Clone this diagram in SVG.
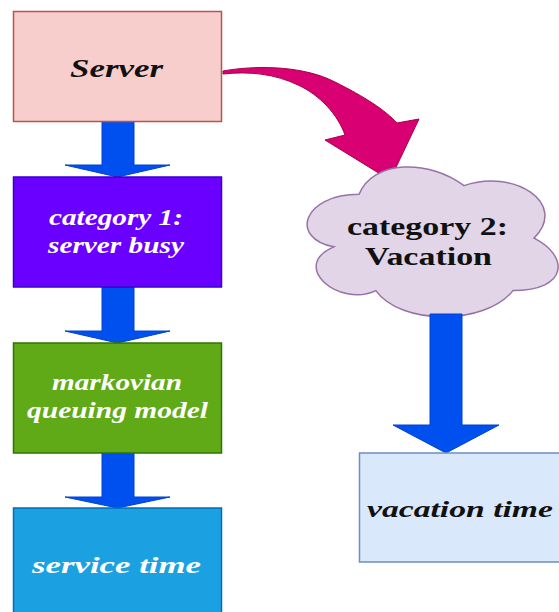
<svg xmlns="http://www.w3.org/2000/svg" width="559" height="612" viewBox="0 0 559 612">
  <style>
    .lbl { font-family: "Liberation Serif", "Times New Roman", serif; font-weight: bold; text-anchor: middle; }
    .it { font-style: italic; }
    .w { fill: #ffffff; }
    .k { fill: #111111; }
    .flow { fill: #0050ef; stroke: #0040d0; stroke-width: 1; }
  </style>

  <rect width="559" height="612" fill="#ffffff"/>

  <!-- vertical block arrows between the stages -->
  <g id="connectors">
    <path class="flow" d="M102 121 L134 121 L134 165 L170 165 L117.5 177 L65 165 L102 165 Z"/>
    <path class="flow" d="M102 287 L134 287 L134 331 L170 331 L117.5 343 L65 331 L102 331 Z"/>
    <path class="flow" d="M102 453 L134 453 L134 497 L170 497 L117.5 508 L65 497 L102 497 Z"/>
    <!-- curved arrow from the server to the vacation cloud -->
    <path fill="#d80073" stroke="#a50040" stroke-width="1"
          d="M223 71 C 250 66, 300 64, 335 82 C 365 97, 385 110, 397 123 L 419 119 L 390 180 L 325 140 L 345 135 C 338 115, 320 95, 298 85 C 275 74, 250 71, 223 74 Z"/>
  </g>

  <g id="server">
    <rect x="13.5" y="11.5" width="208" height="110" fill="#f8cecc" stroke="#b85450" stroke-width="1.5"/>
    <text class="lbl it k" x="116.5" y="77" font-size="26" textLength="93" lengthAdjust="spacingAndGlyphs">Server</text>
  </g>

  <g id="category1">
    <rect x="13.5" y="177" width="208" height="110" fill="#6a00ff" stroke="#3700cc" stroke-width="1.5"/>
    <text class="lbl it w" x="116" y="225" font-size="23" textLength="134" lengthAdjust="spacingAndGlyphs">category 1:</text>
    <text class="lbl it w" x="116" y="253" font-size="23" textLength="136" lengthAdjust="spacingAndGlyphs">server busy</text>
  </g>

  <g id="markovian">
    <rect x="13.5" y="343" width="208" height="110" fill="#60a917" stroke="#2d7600" stroke-width="1.5"/>
    <text class="lbl it w" x="117" y="390" font-size="23" textLength="130" lengthAdjust="spacingAndGlyphs">markovian</text>
    <text class="lbl it w" x="117.5" y="418" font-size="23" textLength="181" lengthAdjust="spacingAndGlyphs">queuing model</text>
  </g>

  <g id="service-time">
    <rect x="13.5" y="508" width="208" height="120" fill="#1ba1e2" stroke="#006eaf" stroke-width="1.5"/>
    <text class="lbl it w" x="116.5" y="573" font-size="24" textLength="169" lengthAdjust="spacingAndGlyphs">service time</text>
  </g>

  <g id="category2">
    <path fill="#e1d5e7" stroke="#9673a6" stroke-width="1.5"
          transform="translate(289 150.6) scale(280 175)" vector-effect="non-scaling-stroke"
          d="M0.25 0.25 C0.05 0.25 0 0.5 0.16 0.55 C0 0.66 0.18 0.9 0.31 0.8 C0.4 1 0.7 1 0.8 0.8 C1 0.8 1 0.6 0.875 0.5 C1 0.3 0.8 0.1 0.625 0.2 C0.5 0.05 0.3 0.05 0.25 0.25 Z"/>
    <text class="lbl k" x="427.5" y="235" font-size="25" textLength="161" lengthAdjust="spacingAndGlyphs">category 2:</text>
    <text class="lbl k" x="428.5" y="265" font-size="25" textLength="127" lengthAdjust="spacingAndGlyphs">Vacation</text>
  </g>

  <!-- arrow from the cloud down to the vacation time box, drawn over the cloud outline -->
  <path class="flow" d="M430 314 L462 314 L462 425 L499 425 L446 453 L393 425 L430 425 Z"/>

  <g id="vacation-time">
    <rect x="359.5" y="453" width="210" height="109" fill="#dae8fc" stroke="#6c8ebf" stroke-width="1.5"/>
    <text class="lbl it k" x="460" y="517" font-size="24" textLength="186" lengthAdjust="spacingAndGlyphs">vacation time</text>
  </g>
</svg>
